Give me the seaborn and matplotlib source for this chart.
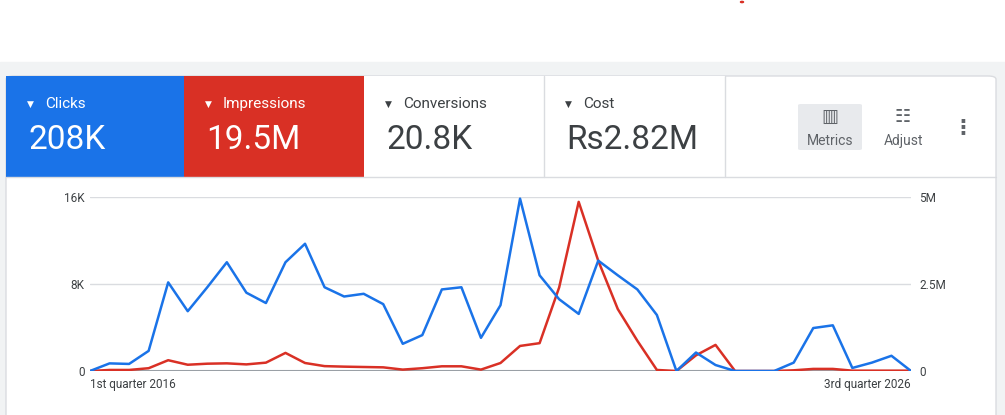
import numpy as np
import pandas as pd
import matplotlib
matplotlib.use("Agg")
import matplotlib.pyplot as plt
import seaborn as sns
from matplotlib.patches import Rectangle, FancyBboxPatch

# quarterly data, Q1 2016 .. Q3 2026
clicks_k = [0, 0.7, 0.65, 1.85, 8.15, 5.5, 7.7, 10.0, 7.2, 6.25,
            10.0, 11.7, 7.7, 6.85, 7.1, 6.15, 2.5, 3.3, 7.5, 7.7,
            3.05, 6.05, 15.85, 8.8, 6.6, 5.25, 10.15, 8.8, 7.5, 5.15,
            0, 1.7, 0.55, 0, 0, 0, 0.77, 3.95, 4.2, 0.28,
            0.77, 1.4, 0]
impressions_m = [0, 0.03, 0.03, 0.08, 0.31, 0.18, 0.21, 0.22, 0.19, 0.24,
                 0.52, 0.23, 0.14, 0.125, 0.115, 0.105, 0.04, 0.08, 0.135, 0.135,
                 0.04, 0.23, 0.72, 0.8, 2.4, 4.86, 3.17, 1.78, 0.87, 0.03,
                 0, 0.45, 0.75, 0, 0, 0, 0.02, 0.06, 0.06, 0.01,
                 0.01, 0.01, 0.01]
x_labels = ["1st quarter 2016", "3rd quarter 2026"]
tiles = [("Clicks", "208K"), ("Impressions", "19.5M"),
         ("Conversions", "20.8K"), ("Cost", "Rs2.82M")]

BLUE = "#1a73e8"
RED = "#d93025"
GRID = "#dadce0"
TXT = "#3c4043"

sns.set_theme(style="white")
plt.rcParams["font.family"] = ["Roboto", "DejaVu Sans"]

W, H = 1005, 415
fig = plt.figure(figsize=(W / 100, H / 100), dpi=100)


def fx(px):
    return px / W


def fy(py):
    return 1 - py / H


# background band and card
fig.patches.append(Rectangle((0, 0), 1, fy(62), transform=fig.transFigure, color="#f1f3f4", zorder=0))
fig.patches.append(FancyBboxPatch((fx(6), -0.05), fx(990), fy(76) + 0.05,
                                  boxstyle="round,pad=0,rounding_size=0.008",
                                  transform=fig.transFigure, facecolor="white", edgecolor=GRID, lw=1, zorder=1))
fig.patches.append(plt.Circle((fx(742), fy(2)), 0.0015, transform=fig.transFigure, color=RED, zorder=2))

# metric tiles
bounds = [6, 184, 364, 544, 725]
for i, (name, val) in enumerate(tiles):
    x0, x1 = bounds[i], bounds[i + 1]
    if i == 0:
        fc, col = BLUE, "white"
    elif i == 1:
        fc, col = RED, "white"
    else:
        fc, col = "white", TXT
    fig.patches.append(Rectangle((fx(x0), fy(177)), fx(x1 - x0), fy(76) - fy(177), transform=fig.transFigure,
                                 facecolor=fc, edgecolor="none", zorder=2))
    if i >= 2:
        fig.add_artist(plt.Line2D([fx(x1), fx(x1)], [fy(177), fy(76)], color=GRID, lw=1, zorder=3))
    fig.text(fx(x0 + 21), fy(104), "\u25bc", color=col, fontsize=6.5, va="center", ha="left", zorder=4)
    fig.text(fx(x0 + 39), fy(104), name, color=col, fontsize=11, va="center", ha="left", zorder=4)
    fig.text(fx(x0 + 22), fy(140), val, color=col, fontsize=24, va="center", ha="left", zorder=4)
fig.add_artist(plt.Line2D([fx(6), fx(996)], [fy(177), fy(177)], color=GRID, lw=1, zorder=3))

# buttons on the right
fig.patches.append(FancyBboxPatch((fx(798), fy(150)), fx(64), fy(104) - fy(150),
                                  boxstyle="round,pad=0,rounding_size=0.003", transform=fig.transFigure,
                                  facecolor="#e8eaed", edgecolor="none", zorder=2))
fig.text(fx(830), fy(117), "\u25a5", color="#5f6368", fontsize=13, ha="center", va="center", zorder=4)
fig.text(fx(830), fy(141), "Metrics", color="#5f6368", fontsize=10, ha="center", va="center", zorder=4)
fig.text(fx(903), fy(117), "\u2637", color="#5f6368", fontsize=13, ha="center", va="center", zorder=4)
fig.text(fx(903), fy(141), "Adjust", color="#5f6368", fontsize=10, ha="center", va="center", zorder=4)
fig.text(fx(963), fy(127), "\u22ee", color="#5f6368", fontsize=15, ha="center", va="center", zorder=4,
         family=["DejaVu Sans"], fontweight="bold")

# chart
df = pd.DataFrame({"q": np.arange(len(clicks_k)), "clicks": np.array(clicks_k) * 1000,
                   "impr": np.array(impressions_m) * 1e6})
ax = fig.add_axes([fx(90), fy(371), fx(821), fy(197) - fy(371)], zorder=5)
ax2 = ax.twinx()
sns.lineplot(data=df, x="q", y="impr", ax=ax2, color=RED, lw=1.8)
sns.lineplot(data=df, x="q", y="clicks", ax=ax, color=BLUE, lw=1.8)
ax.set_zorder(6)
ax2.set_zorder(5)
ax.patch.set_visible(False)

ax.set_xlim(0, len(clicks_k) - 1)
ax.set_ylim(0, 16000)
ax2.set_ylim(0, 5e6)
for a in (ax, ax2):
    for s in a.spines.values():
        s.set_visible(False)
    a.set_xlabel("")
    a.set_ylabel("")
ax.set_yticks([0, 8000, 16000])
ax.set_yticklabels(["0", "8K", "16K"])
ax2.set_yticks([0, 2.5e6, 5e6])
ax2.set_yticklabels(["0", "2.5M", "5M"])
ax.tick_params(axis="y", length=0, pad=4, labelsize=8.5, labelcolor=TXT)
ax2.tick_params(axis="y", length=0, pad=6, labelsize=8.5, labelcolor=TXT)
for yv in (8000, 16000):
    ax2.axhline(yv / 16000 * 5e6, color=GRID, lw=1, zorder=0)
ax2.axhline(0, color="#9aa0a6", lw=1.5, zorder=0)
ax.set_xticks([0, len(clicks_k) - 1])
ax.set_xticklabels(x_labels)
ax.tick_params(axis="x", length=0, pad=5, labelsize=8.5, labelcolor=TXT)
xl = ax.get_xticklabels()
xl[0].set_ha("left")
xl[1].set_ha("right")

fig.savefig("out.png", dpi=100)
